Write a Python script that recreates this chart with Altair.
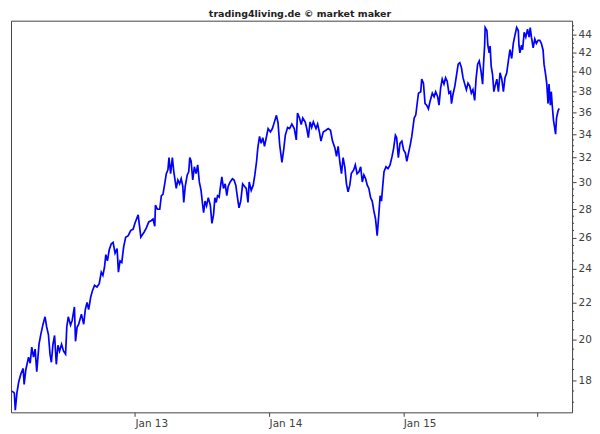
import altair as alt
import pandas as pd

# decimal-year time positions and prices
years = [
    2012.084, 2012.101, 2012.108, 2012.120, 2012.133, 2012.150, 2012.167, 2012.174, 2012.187, 2012.207,
    2012.219, 2012.231, 2012.244, 2012.256, 2012.268, 2012.285, 2012.298, 2012.315, 2012.330, 2012.342,
    2012.355, 2012.367, 2012.377, 2012.389, 2012.401, 2012.414, 2012.426, 2012.438, 2012.453, 2012.468,
    2012.483, 2012.492, 2012.503, 2012.520, 2012.532, 2012.549, 2012.557, 2012.569, 2012.581, 2012.601,
    2012.618, 2012.630, 2012.643, 2012.655, 2012.670, 2012.684, 2012.699, 2012.717, 2012.734, 2012.749,
    2012.761, 2012.773, 2012.783, 2012.795, 2012.808, 2012.823, 2012.837, 2012.852, 2012.867, 2012.877,
    2012.889, 2012.902, 2012.916, 2012.931, 2012.950, 2012.968, 2012.987,
    2013.000, 2013.024, 2013.037, 2013.044, 2013.069, 2013.086, 2013.103, 2013.123, 2013.135, 2013.148,
    2013.153, 2013.168, 2013.185, 2013.197, 2013.209, 2013.222, 2013.234, 2013.246, 2013.254, 2013.266,
    2013.279, 2013.290, 2013.301, 2013.308, 2013.320, 2013.333, 2013.345, 2013.357, 2013.364, 2013.375,
    2013.390, 2013.401, 2013.409, 2013.419, 2013.431, 2013.443, 2013.456, 2013.468, 2013.480, 2013.493,
    2013.505, 2013.512, 2013.523, 2013.534, 2013.547, 2013.562, 2013.574, 2013.586, 2013.596, 2013.606,
    2013.616, 2013.628, 2013.636, 2013.648, 2013.660, 2013.673, 2013.685, 2013.695, 2013.710, 2013.727,
    2013.739, 2013.752, 2013.764, 2013.776, 2013.789, 2013.803, 2013.818, 2013.830, 2013.843, 2013.852,
    2013.867, 2013.882, 2013.894, 2013.907, 2013.916, 2013.929, 2013.941, 2013.953, 2013.966, 2013.981,
    2013.993, 2014.010, 2014.025, 2014.040, 2014.055, 2014.067, 2014.079, 2014.096, 2014.109, 2014.121,
    2014.138, 2014.153, 2014.170, 2014.188, 2014.203, 2014.212, 2014.227, 2014.240, 2014.251, 2014.269,
    2014.281, 2014.293, 2014.306, 2014.318, 2014.330, 2014.350, 2014.362, 2014.375, 2014.387, 2014.404,
    2014.424, 2014.441, 2014.458, 2014.473, 2014.491, 2014.503, 2014.515, 2014.528, 2014.540, 2014.552,
    2014.565, 2014.577, 2014.589, 2014.602, 2014.613, 2014.631, 2014.643, 2014.656, 2014.670, 2014.683,
    2014.695, 2014.707, 2014.720, 2014.732, 2014.744, 2014.757, 2014.769, 2014.781, 2014.794, 2014.806,
    2014.818, 2014.828, 2014.838, 2014.848, 2014.857, 2014.872, 2014.887, 2014.902, 2014.917, 2014.929,
    2014.942, 2014.951, 2014.964, 2014.976, 2014.990, 2015.003, 2015.016, 2015.027, 2015.040, 2015.053,
    2015.064, 2015.082, 2015.094, 2015.106, 2015.114, 2015.131, 2015.138, 2015.151, 2015.163, 2015.175,
    2015.188, 2015.200, 2015.217, 2015.230, 2015.242, 2015.257, 2015.267, 2015.279, 2015.291, 2015.304,
    2015.316, 2015.328, 2015.341, 2015.353, 2015.360, 2015.370, 2015.385, 2015.397, 2015.410, 2015.422,
    2015.434, 2015.446, 2015.459, 2015.471, 2015.483, 2015.496, 2015.508, 2015.520, 2015.533, 2015.543,
    2015.555, 2015.567, 2015.580, 2015.592, 2015.599, 2015.607, 2015.611, 2015.624, 2015.631, 2015.641,
    2015.648, 2015.656, 2015.666, 2015.676, 2015.685, 2015.698, 2015.710, 2015.722, 2015.735, 2015.747,
    2015.759, 2015.772, 2015.784, 2015.796, 2015.809, 2015.821, 2015.833, 2015.846, 2015.858, 2015.863,
    2015.870, 2015.882, 2015.890, 2015.902, 2015.914, 2015.927, 2015.939, 2015.947, 2015.956, 2015.969,
    2015.981, 2015.993, 2016.006, 2016.018, 2016.030, 2016.043, 2016.050, 2016.060, 2016.070, 2016.080,
    2016.087, 2016.097, 2016.104, 2016.112, 2016.121, 2016.129, 2016.136, 2016.143, 2016.154, 2016.163,
]
prices = [
    17.5, 17.4, 16.65, 17.4, 17.9, 18.3, 18.55, 17.8, 18.5, 19.1,
    18.8, 19.6, 19.1, 19.5, 18.4, 19.75, 20.25, 20.8, 21.2, 20.65,
    20.25, 19.25, 18.85, 19.75, 20.2, 18.75, 19.7, 19.4, 19.75, 19.4,
    19.25, 20.65, 21.2, 20.75, 21.0, 21.75, 19.9, 20.65, 20.8, 21.35,
    20.8, 21.6, 22.0, 21.6, 22.3, 22.7, 23.0, 22.9, 23.1, 23.8,
    23.6, 24.1, 24.9, 24.5, 25.2, 25.6, 25.7, 25.0, 25.3, 23.8,
    24.5, 24.4, 25.4, 26.05, 26.15, 26.5, 26.6,
    27.0, 27.6, 26.6, 26.05, 26.4, 26.7, 27.1, 27.2, 27.3, 26.8,
    28.3, 28.0, 28.0, 29.0, 29.1, 29.9, 30.7, 31.0, 32.0, 30.7,
    32.0, 30.85, 30.05, 29.55, 30.2, 29.9, 30.3, 29.7, 28.5, 29.7,
    30.6, 30.85, 32.0, 31.7, 30.2, 31.25, 30.7, 31.4, 30.05, 29.4,
    28.3, 27.75, 28.6, 28.25, 28.85, 28.3, 27.0, 27.6, 28.85, 28.5,
    29.0, 28.9, 29.55, 30.45, 29.55, 29.9, 29.0, 29.7, 30.05, 30.3,
    30.2, 29.8, 28.9, 28.1, 28.6, 29.9, 29.7, 29.55, 28.5, 30.05,
    29.4, 29.8, 30.6, 31.7, 32.8, 33.8, 33.2, 33.7, 32.95, 33.8,
    34.5, 34.2, 34.5, 35.1, 35.7, 35.0, 33.1, 31.6, 32.65, 33.9,
    34.6, 34.5, 34.9, 34.5, 33.5, 35.9, 35.45, 34.85, 35.45, 35.1,
    34.5, 33.7, 35.1, 34.6, 35.1, 34.5, 34.9, 34.2, 33.4, 34.2,
    34.35, 34.5, 34.35, 33.4, 32.8, 32.1, 32.95, 31.6, 30.7, 32.0,
    31.2, 29.9, 29.3, 29.8, 30.7, 31.0, 31.4, 30.7, 30.85, 31.25,
    30.05, 30.6, 30.3, 29.8, 29.55, 28.85, 28.6, 27.9, 27.3, 26.15,
    27.6, 29.0, 28.6, 29.8, 30.85, 31.25, 31.1, 31.4, 32.1, 32.8,
    33.9, 33.7, 32.0, 33.2, 33.4, 32.65, 32.4, 31.7, 32.4, 33.1,
    33.8, 35.45, 35.75, 37.0, 37.8, 37.95, 39.2, 38.8, 36.8, 36.65,
    36.3, 37.0, 37.8, 37.45, 37.95, 37.45, 36.65, 38.3, 39.2, 38.7,
    39.35, 39.0, 37.8, 37.95, 36.8, 37.6, 38.5, 39.55, 40.75, 40.9,
    40.4, 39.35, 38.7, 38.15, 38.8, 38.5, 37.8, 38.15, 37.1, 39.2,
    40.75, 41.1, 40.05, 38.7, 40.75, 42.7, 44.8, 44.45, 42.8, 41.95,
    42.7, 40.55, 39.7, 37.95, 38.5, 39.2, 37.95, 39.85, 39.2, 37.95,
    39.35, 39.85, 41.1, 42.3, 41.35, 43.0, 43.9, 44.8, 44.45, 42.8,
    41.95, 42.8, 42.3, 44.25, 43.7, 44.6, 43.7, 44.8, 43.7, 42.5,
    43.5, 43.0, 43.35, 43.35, 43.0, 42.25, 40.75, 39.85, 38.8, 36.8,
    38.7, 36.65, 37.95, 36.5, 35.2, 34.6, 34.0, 35.45, 36.1, 36.35,
]

y_major = [18, 20, 22, 24, 26, 28, 30, 32, 34, 36, 38, 40, 42, 44]
y_minor = [17.0, 17.5, 18.5, 19.0, 19.5, 20.5, 21.0, 21.5, 22.5, 23.0, 23.5, 24.5, 25.0, 25.5,
           26.5, 27.0, 27.5, 28.5, 29.0, 29.5, 30.5, 31.0, 31.5, 32.5, 33.0, 33.5, 34.5, 35.0,
           35.5, 36.5, 37.0, 37.5, 38.5, 39.0, 39.5, 40.5, 41.0, 41.5, 42.5, 43.0, 43.5, 44.5, 45.0]
x_ticks = [2013, 2014, 2015, 2016]

W, H = 563, 393
FONT = "DejaVu Sans"
AX = "#444444"
LBL = "#404040"

df = pd.DataFrame({"t": years, "p": prices})
minor = pd.DataFrame({"v": y_minor})

xscale = alt.Scale(domain=[2012.076, 2016.259], nice=False, zero=False)
yscale = alt.Scale(type="log", domain=[16.56, 45.6], nice=False)

line = alt.Chart(df).mark_line(color="#0000ff", strokeWidth=1.7).encode(
    x=alt.X("t:Q", scale=xscale,
            axis=alt.Axis(values=x_ticks, grid=False, domain=False, tickSize=4,
                          tickColor=AX, labelColor=LBL, labelFont=FONT,
                          labelFontSize=10.5, labelAlign="left", labelPadding=2,
                          labelFlush=False, labelOverlap=False,
                          labelExpr="datum.value == 2016 ? '' : 'Jan ' + substring(toString(datum.value), 2, 4)",
                          title=None)),
    y=alt.Y("p:Q", scale=yscale,
            axis=alt.Axis(orient="right", values=y_major, grid=False, domain=False,
                          tickSize=4, tickColor=AX, labelColor=LBL, labelFont=FONT,
                          labelFontSize=10.5, labelPadding=2, labelFlush=False,
                          labelOverlap=False, title=None)),
)

minor_ticks = alt.Chart(minor).mark_rule(color=AX, strokeWidth=1).encode(
    y=alt.Y("v:Q", scale=yscale),
    x=alt.value(W),
    x2=alt.value(W + 2),
)

chart = alt.layer(line, minor_ticks).properties(
    width=W,
    height=H,
    padding={"left": 0, "top": 0, "right": 0, "bottom": 0},
    title=alt.TitleParams("trading4living.de \u00a9 market maker", font=FONT, fontSize=9.5,
                          fontWeight="bold", color="#222222", anchor="middle",
                          frame="bounds", offset=2),
).configure_view(stroke=AX, strokeWidth=1)

chart.save("out.html", embed_options={"renderer": "svg", "actions": False})
